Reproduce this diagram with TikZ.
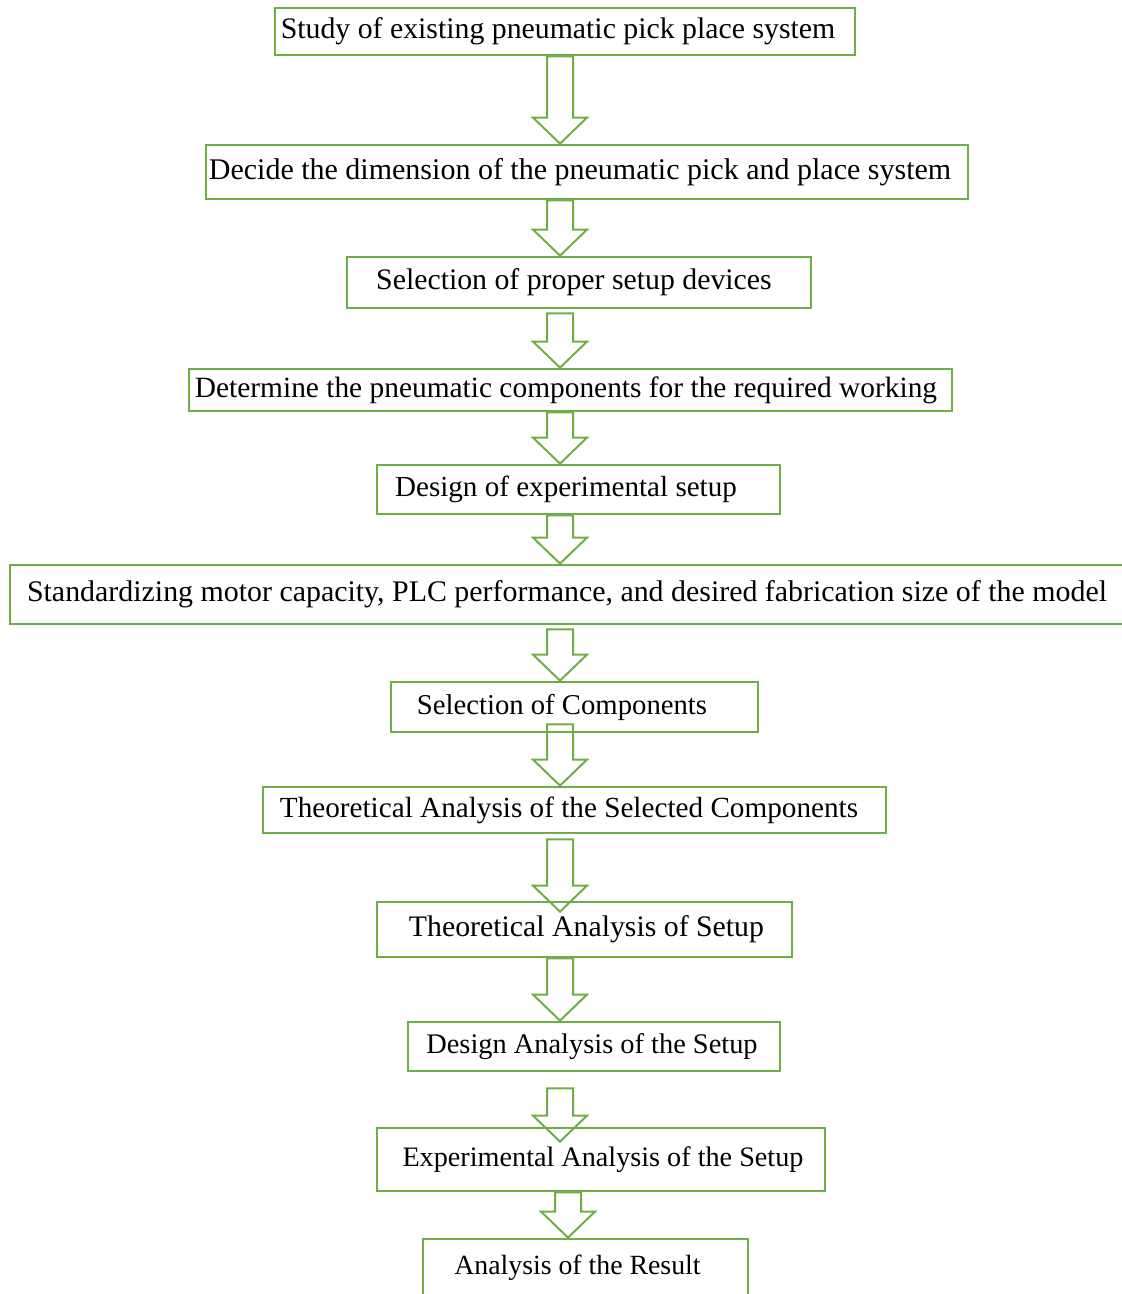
\documentclass[tikz,border=0pt]{standalone}
\usepackage{fontspec}
\setmainfont{Liberation Serif}
\usetikzlibrary{calc}
\definecolor{stepgreen}{HTML}{70AD47}
\tikzset{
  font=\rmfamily,
  stage/.style={
    draw=stepgreen,
    line width=1.4pt,
    text=black,
    inner sep=0pt,
    font=\fontsize{#1}{18}\selectfont
  },
  stage/.default=14,
  flow/.style={draw=stepgreen, line width=1pt, line join=miter}
}
% hollow block arrow from the top of its shaft (#1) down to its tip (#2)
\newcommand{\flowdown}[2]{%
  \draw[flow] let \p1=(#1), \p2=(#2) in
    (\x1-6.5pt,\y1) -- (\x1+6.5pt,\y1) -- (\x1+6.5pt,\y2+13pt)
    -- (\x1+13.5pt,\y2+13pt) -- (\x1,\y2) -- (\x1-13.5pt,\y2+13pt)
    -- (\x1-6.5pt,\y2+13pt) -- cycle;}

\begin{document}
\begin{tikzpicture}[x=0.5pt,y=-0.5pt]
  \useasboundingbox (0,0) rectangle (1122,1294);
  \coordinate (spine) at (560,0);
  \coordinate (spinelow) at (568,0);

  % Process steps
  \node[stage=14.9, minimum width=290pt, minimum height=23.5pt] (s1) at (565,31.5)
    {\hspace*{-7pt}Study of existing pneumatic pick place system};
  \node[stage=15, minimum width=381pt, minimum height=27pt] (s2) at (587,172)
    {\hspace*{-7pt}Decide the dimension of the pneumatic pick and place system};
  \node[stage=14.9, minimum width=232pt, minimum height=25.5pt] (s3) at (579,282.5)
    {\hspace*{-5pt}Selection of proper setup devices};
  \node[stage=14.7, minimum width=381.5pt, minimum height=21pt] (s4) at (570.5,390)
    {\hspace*{-4.5pt}Determine the pneumatic components for the required working};
  \node[stage=14.55, minimum width=201.5pt, minimum height=24.5pt] (s5) at (578.5,489.5)
    {\hspace*{-12.5pt}Design of experimental setup};
  \node[stage=14.95, minimum width=562.5pt, minimum height=29.5pt] (s6) at (572.5,594.5)
    {\hspace*{-5.5pt}Standardizing motor capacity, PLC performance, and desired fabrication size of the model};
  \node[stage=14.35, minimum width=183.5pt, minimum height=25pt] (s7) at (574.5,707)
    {\hspace*{-12.5pt}Selection of Components};
  \node[stage=14.6, minimum width=311.5pt, minimum height=23pt] (s8) at (574.5,810)
    {\hspace*{-5.5pt}Theoretical Analysis of the Selected Components};
  \node[stage=14.9, minimum width=207.5pt, minimum height=27.5pt] (s9) at (584.5,929.5)
    {\hspace*{2pt}Theoretical Analysis of Setup};
  \node[stage=14.2, minimum width=186pt, minimum height=24.5pt] (s10) at (594,1046.5)
    {\hspace*{-2pt}Design Analysis of the Setup};
  \node[stage=14.1, minimum width=224pt, minimum height=31.5pt] (s11) at (601,1159.5)
    {\hspace*{2pt}Experimental Analysis of the Setup};
  \node[stage=13.9, minimum width=162.5pt, minimum height=28.5pt] (s12) at (585.5,1267.5)
    {\hspace*{-8pt}Analysis of the Result};

  % Block arrows between the steps
  \flowdown{s1.south -| spine}{s2.north -| spine}
  \flowdown{s2.south -| spine}{s3.north -| spine}
  \flowdown{[yshift=-2pt]s3.south -| spine}{s4.north -| spine}
  \flowdown{s4.south -| spine}{s5.north -| spine}
  \flowdown{s5.south -| spine}{s6.north -| spine}
  \flowdown{[yshift=-2pt]s6.south -| spine}{s7.north -| spine}
  \flowdown{[yshift=4.5pt]s7.south -| spine}{s8.north -| spine}
  \flowdown{[yshift=-2.5pt]s8.south -| spine}{[yshift=-5.5pt]s9.north -| spine}
  \flowdown{s9.south -| spine}{s10.north -| spine}
  \flowdown{[yshift=-8pt]s10.south -| spine}{[yshift=-7.5pt]s11.north -| spine}
  \flowdown{s11.south -| spinelow}{s12.north -| spinelow}
\end{tikzpicture}
\end{document}
